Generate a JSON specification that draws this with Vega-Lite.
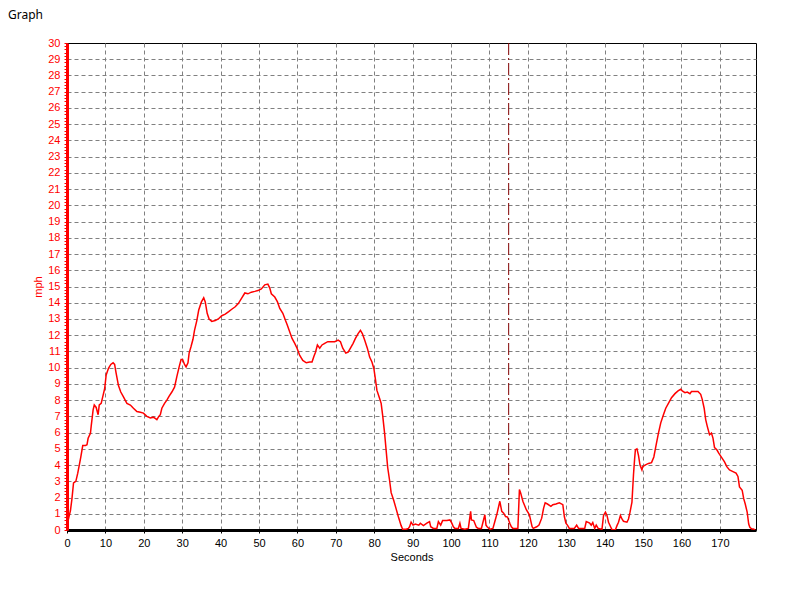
{
  "$schema": "https://vega.github.io/schema/vega-lite/v6.json",
  "autosize": {"type": "none"},
  "padding": {"left": 67, "top": 43, "right": 32, "bottom": 60},
  "width": 689,
  "height": 487,
  "background": "white",
  "title": {"text": "Graph", "anchor": "start", "frame": "group", "dx": -59, "offset": 15, "font": "Noto Sans", "fontSize": 12, "fontWeight": "normal", "color": "#000000"},
  "config": {
    "view": {"stroke": "#000000", "strokeWidth": 1},
    "axis": {"labelFont": "Liberation Sans", "titleFont": "Liberation Sans", "labelFontSize": 11, "titleFontSize": 11, "titleFontWeight": "normal", "gridColor": "#808080", "gridDash": [4, 3], "gridWidth": 1}
  },
  "layer": [
    {
      "data": {"values": [
        {"t":0,"mph":0.3},{"t":0.3,"mph":0.6},{"t":0.6,"mph":0.9},{"t":0.9,"mph":1.2},{"t":1.3,"mph":1.95},{"t":1.7,"mph":2.9},{"t":2.3,"mph":3.0},{"t":2.8,"mph":3.5},{"t":3.2,"mph":4.0},{"t":3.6,"mph":4.5},{"t":4.1,"mph":5.2},{"t":4.8,"mph":5.2},{"t":5.2,"mph":5.25},{"t":5.5,"mph":5.65},{"t":6.1,"mph":5.95},{"t":6.3,"mph":6.4},{"t":6.8,"mph":7.4},{"t":7.1,"mph":7.7},{"t":7.6,"mph":7.55},{"t":8.1,"mph":7.1},{"t":8.4,"mph":7.7},{"t":8.9,"mph":7.8},{"t":9.3,"mph":8.2},{"t":9.8,"mph":8.7},{"t":10.2,"mph":9.55},{"t":10.8,"mph":9.96},{"t":11.4,"mph":10.2},{"t":12.0,"mph":10.3},{"t":12.4,"mph":10.2},{"t":12.8,"mph":9.65},{"t":13.4,"mph":8.9},{"t":14.0,"mph":8.5},{"t":14.7,"mph":8.2},{"t":15.6,"mph":7.8},{"t":16.5,"mph":7.7},{"t":17.3,"mph":7.5},{"t":18.2,"mph":7.3},{"t":19.1,"mph":7.25},{"t":19.9,"mph":7.2},{"t":20.8,"mph":7.0},{"t":21.7,"mph":6.9},{"t":22.5,"mph":6.95},{"t":23.4,"mph":6.8},{"t":23.9,"mph":7.0},{"t":24.3,"mph":7.1},{"t":24.7,"mph":7.5},{"t":25.4,"mph":7.8},{"t":26.0,"mph":8.0},{"t":26.6,"mph":8.25},{"t":27.3,"mph":8.5},{"t":28.0,"mph":8.8},{"t":28.6,"mph":9.45},{"t":29.2,"mph":10.05},{"t":29.7,"mph":10.5},{"t":30.1,"mph":10.5},{"t":30.6,"mph":10.2},{"t":31.0,"mph":10.05},{"t":31.5,"mph":10.3},{"t":31.8,"mph":10.9},{"t":32.3,"mph":11.3},{"t":32.8,"mph":11.75},{"t":33.2,"mph":12.3},{"t":33.8,"mph":12.9},{"t":34.3,"mph":13.55},{"t":35.0,"mph":14.05},{"t":35.6,"mph":14.3},{"t":36.0,"mph":14.05},{"t":36.5,"mph":13.35},{"t":37.0,"mph":13.0},{"t":37.7,"mph":12.85},{"t":38.6,"mph":12.9},{"t":39.4,"mph":13.0},{"t":40.3,"mph":13.2},{"t":41.2,"mph":13.3},{"t":42.1,"mph":13.45},{"t":42.9,"mph":13.6},{"t":43.8,"mph":13.75},{"t":44.6,"mph":13.95},{"t":45.4,"mph":14.25},{"t":46.3,"mph":14.6},{"t":47.1,"mph":14.55},{"t":48.0,"mph":14.65},{"t":48.9,"mph":14.7},{"t":49.7,"mph":14.75},{"t":50.6,"mph":14.85},{"t":51.5,"mph":15.1},{"t":52.3,"mph":15.15},{"t":52.8,"mph":14.9},{"t":53.2,"mph":14.55},{"t":54.1,"mph":14.35},{"t":54.8,"mph":14.05},{"t":55.4,"mph":13.65},{"t":56.2,"mph":13.35},{"t":56.9,"mph":12.9},{"t":57.4,"mph":12.6},{"t":58.0,"mph":12.2},{"t":58.6,"mph":11.8},{"t":59.3,"mph":11.5},{"t":59.9,"mph":11.2},{"t":60.6,"mph":10.75},{"t":61.4,"mph":10.45},{"t":62.3,"mph":10.3},{"t":63.2,"mph":10.35},{"t":63.8,"mph":10.35},{"t":64.3,"mph":10.7},{"t":64.7,"mph":10.95},{"t":65.2,"mph":11.4},{"t":65.8,"mph":11.2},{"t":66.4,"mph":11.4},{"t":67.1,"mph":11.5},{"t":67.9,"mph":11.6},{"t":68.8,"mph":11.6},{"t":69.7,"mph":11.6},{"t":70.6,"mph":11.7},{"t":71.2,"mph":11.6},{"t":71.8,"mph":11.2},{"t":72.6,"mph":10.9},{"t":73.2,"mph":10.95},{"t":73.8,"mph":11.2},{"t":74.5,"mph":11.5},{"t":75.1,"mph":11.8},{"t":75.8,"mph":12.1},{"t":76.4,"mph":12.3},{"t":76.9,"mph":12.1},{"t":77.5,"mph":11.7},{"t":78.2,"mph":11.2},{"t":78.8,"mph":10.65},{"t":79.4,"mph":10.35},{"t":79.9,"mph":9.95},{"t":80.3,"mph":9.3},{"t":80.7,"mph":8.6},{"t":81.4,"mph":8.1},{"t":81.8,"mph":7.8},{"t":82.2,"mph":7.05},{"t":82.7,"mph":5.95},{"t":83.1,"mph":4.9},{"t":83.5,"mph":3.85},{"t":84.0,"mph":3.05},{"t":84.4,"mph":2.3},{"t":85.1,"mph":1.8},{"t":85.7,"mph":1.3},{"t":86.3,"mph":0.8},{"t":87.0,"mph":0.27},{"t":87.4,"mph":0.05},{"t":88.3,"mph":0.05},{"t":88.9,"mph":0.1},{"t":89.2,"mph":0.2},{"t":89.6,"mph":0.48},{"t":90.1,"mph":0.3},{"t":90.7,"mph":0.37},{"t":91.6,"mph":0.3},{"t":92.0,"mph":0.42},{"t":92.8,"mph":0.27},{"t":93.7,"mph":0.42},{"t":94.4,"mph":0.52},{"t":94.7,"mph":0.2},{"t":95.4,"mph":0.1},{"t":96.3,"mph":0.1},{"t":96.7,"mph":0.52},{"t":97.3,"mph":0.3},{"t":97.8,"mph":0.58},{"t":98.9,"mph":0.58},{"t":99.7,"mph":0.62},{"t":100.2,"mph":0.42},{"t":100.6,"mph":0.2},{"t":101.0,"mph":0.1},{"t":101.9,"mph":0.1},{"t":102.3,"mph":0.42},{"t":102.6,"mph":0.1},{"t":103.6,"mph":0.05},{"t":104.5,"mph":0.1},{"t":105.1,"mph":1.15},{"t":105.3,"mph":0.62},{"t":105.9,"mph":0.58},{"t":106.6,"mph":0.17},{"t":107.1,"mph":0.1},{"t":107.9,"mph":0.1},{"t":108.8,"mph":0.94},{"t":109.1,"mph":0.3},{"t":109.4,"mph":0.2},{"t":110.1,"mph":0.05},{"t":110.9,"mph":0.1},{"t":111.4,"mph":0.52},{"t":112.0,"mph":1.04},{"t":112.7,"mph":1.77},{"t":113.2,"mph":1.15},{"t":113.7,"mph":1.04},{"t":114.2,"mph":0.83},{"t":114.7,"mph":0.8},{"t":115.3,"mph":0.42},{"t":115.7,"mph":0.2},{"t":116.1,"mph":0.1},{"t":117.4,"mph":0.1},{"t":117.8,"mph":2.5},{"t":118.1,"mph":2.3},{"t":118.7,"mph":1.77},{"t":119.6,"mph":1.25},{"t":120.4,"mph":0.94},{"t":121.1,"mph":0.2},{"t":121.4,"mph":0.1},{"t":122.3,"mph":0.2},{"t":122.9,"mph":0.3},{"t":123.6,"mph":0.73},{"t":124.1,"mph":1.35},{"t":124.5,"mph":1.67},{"t":125.1,"mph":1.6},{"t":126.0,"mph":1.46},{"t":126.5,"mph":1.56},{"t":127.3,"mph":1.6},{"t":128.2,"mph":1.67},{"t":129.1,"mph":1.56},{"t":129.5,"mph":0.83},{"t":129.9,"mph":0.42},{"t":130.3,"mph":0.3},{"t":130.8,"mph":0.1},{"t":132.1,"mph":0.1},{"t":132.7,"mph":0.3},{"t":133.2,"mph":0.1},{"t":134.8,"mph":0.1},{"t":135.2,"mph":0.52},{"t":136.1,"mph":0.42},{"t":136.5,"mph":0.3},{"t":136.9,"mph":0.46},{"t":137.4,"mph":0.1},{"t":137.8,"mph":0.3},{"t":138.3,"mph":0.1},{"t":139.3,"mph":0.05},{"t":139.7,"mph":0.9},{"t":140.2,"mph":1.1},{"t":140.6,"mph":0.9},{"t":141.0,"mph":0.48},{"t":141.6,"mph":0.17},{"t":141.9,"mph":0.02},{"t":142.8,"mph":0.02},{"t":143.2,"mph":0.27},{"t":143.6,"mph":0.48},{"t":144.1,"mph":0.9},{"t":144.5,"mph":0.68},{"t":144.9,"mph":0.54},{"t":145.8,"mph":0.48},{"t":146.2,"mph":0.68},{"t":146.6,"mph":1.1},{"t":147.1,"mph":1.72},{"t":147.5,"mph":3.4},{"t":147.8,"mph":4.4},{"t":148.0,"mph":4.95},{"t":148.4,"mph":5.0},{"t":148.8,"mph":4.6},{"t":149.2,"mph":4.0},{"t":149.7,"mph":3.7},{"t":149.9,"mph":3.9},{"t":150.5,"mph":4.0},{"t":151.4,"mph":4.1},{"t":152.2,"mph":4.15},{"t":152.8,"mph":4.5},{"t":153.4,"mph":5.25},{"t":154.0,"mph":5.97},{"t":154.6,"mph":6.6},{"t":155.3,"mph":7.1},{"t":155.9,"mph":7.5},{"t":156.7,"mph":7.85},{"t":157.4,"mph":8.15},{"t":158.3,"mph":8.4},{"t":159.1,"mph":8.57},{"t":159.8,"mph":8.67},{"t":160.2,"mph":8.57},{"t":160.9,"mph":8.46},{"t":161.5,"mph":8.5},{"t":162.2,"mph":8.4},{"t":162.6,"mph":8.53},{"t":163.4,"mph":8.53},{"t":164.3,"mph":8.53},{"t":165.0,"mph":8.36},{"t":165.4,"mph":8.05},{"t":165.9,"mph":7.5},{"t":166.3,"mph":6.8},{"t":166.7,"mph":6.4},{"t":167.3,"mph":5.87},{"t":167.8,"mph":5.97},{"t":168.2,"mph":5.66},{"t":168.6,"mph":5.08},{"t":169.2,"mph":4.94},{"t":169.7,"mph":4.73},{"t":170.3,"mph":4.52},{"t":171.2,"mph":4.2},{"t":171.8,"mph":3.9},{"t":172.5,"mph":3.7},{"t":173.4,"mph":3.6},{"t":174.2,"mph":3.5},{"t":174.7,"mph":3.3},{"t":175.1,"mph":2.65},{"t":175.8,"mph":2.45},{"t":176.2,"mph":1.93},{"t":176.6,"mph":1.6},{"t":177.1,"mph":1.1},{"t":177.5,"mph":0.37},{"t":177.8,"mph":0.17},{"t":178.3,"mph":0.06},{"t":178.7,"mph":0.06},{"t":179.2,"mph":0.0}
      ]},
      "mark": {"type": "line", "color": "#FF0000", "strokeWidth": 1.5, "clip": true},
      "encoding": {
        "x": {"field": "t", "type": "quantitative",
          "scale": {"domain": [0, 179.4], "nice": false, "zero": false},
          "axis": {
            "title": "Seconds", "titleColor": "#000000", "titlePadding": 3,
            "values": [0,2.5,5,7.5,10,12.5,15,17.5,20,22.5,25,27.5,30,32.5,35,37.5,40,42.5,45,47.5,50,52.5,55,57.5,60,62.5,65,67.5,70,72.5,75,77.5,80,82.5,85,87.5,90,92.5,95,97.5,100,102.5,105,107.5,110,112.5,115,117.5,120,122.5,125,127.5,130,132.5,135,137.5,140,142.5,145,147.5,150,152.5,155,157.5,160,162.5,165,167.5,170,172.5,175,177.5],
            "labelExpr": "datum.value % 10 == 0 ? format(datum.value, 'd') : ''",
            "labelColor": "#000000", "labelPadding": 4, "labelFlush": false, "labelOverlap": false,
            "domainColor": "#000000", "domainWidth": 3,
            "tickColor": "#000000", "tickSize": 3,
            "grid": true,
            "gridOpacity": {"condition": {"test": "datum.value % 10 == 0 && datum.value > 0", "value": 1}, "value": 0}
          }
        },
        "y": {"field": "mph", "type": "quantitative",
          "scale": {"domain": [0, 30], "nice": false},
          "axis": {
            "title": "mph", "titleColor": "#FF0000", "titlePadding": 4,
            "values": [0,0.2,0.4,0.6,0.8,1,1.2,1.4,1.6,1.8,2,2.2,2.4,2.6,2.8,3,3.2,3.4,3.6,3.8,4,4.2,4.4,4.6,4.8,5,5.2,5.4,5.6,5.8,6,6.2,6.4,6.6,6.8,7,7.2,7.4,7.6,7.8,8,8.2,8.4,8.6,8.8,9,9.2,9.4,9.6,9.8,10,10.2,10.4,10.6,10.8,11,11.2,11.4,11.6,11.8,12,12.2,12.4,12.6,12.8,13,13.2,13.4,13.6,13.8,14,14.2,14.4,14.6,14.8,15,15.2,15.4,15.6,15.8,16,16.2,16.4,16.6,16.8,17,17.2,17.4,17.6,17.8,18,18.2,18.4,18.6,18.8,19,19.2,19.4,19.6,19.8,20,20.2,20.4,20.6,20.8,21,21.2,21.4,21.6,21.8,22,22.2,22.4,22.6,22.8,23,23.2,23.4,23.6,23.8,24,24.2,24.4,24.6,24.8,25,25.2,25.4,25.6,25.8,26,26.2,26.4,26.6,26.8,27,27.2,27.4,27.6,27.8,28,28.2,28.4,28.6,28.8,29,29.2,29.4,29.6,29.8,30],
            "labelExpr": "abs(datum.value - round(datum.value)) < 0.01 ? format(datum.value, 'd') : ''",
            "labelColor": "#FF0000", "labelPadding": 4, "labelFlush": false, "labelOverlap": false,
            "domainColor": "#FF0000", "domainWidth": 3,
            "tickColor": "#FF0000", "tickSize": 3,
            "grid": true,
            "gridOpacity": {"condition": {"test": "abs(datum.value - round(datum.value)) < 0.01 && datum.value > 0.5 && datum.value < 29.5", "value": 1}, "value": 0}
          }
        }
      }
    },
    {
      "data": {"values": [{"marker": 115}]},
      "mark": {"type": "rule", "color": "#800000", "strokeWidth": 1, "strokeDash": [12, 3, 2, 3]},
      "encoding": {
        "x": {"field": "marker", "type": "quantitative"}
      }
    }
  ]
}
